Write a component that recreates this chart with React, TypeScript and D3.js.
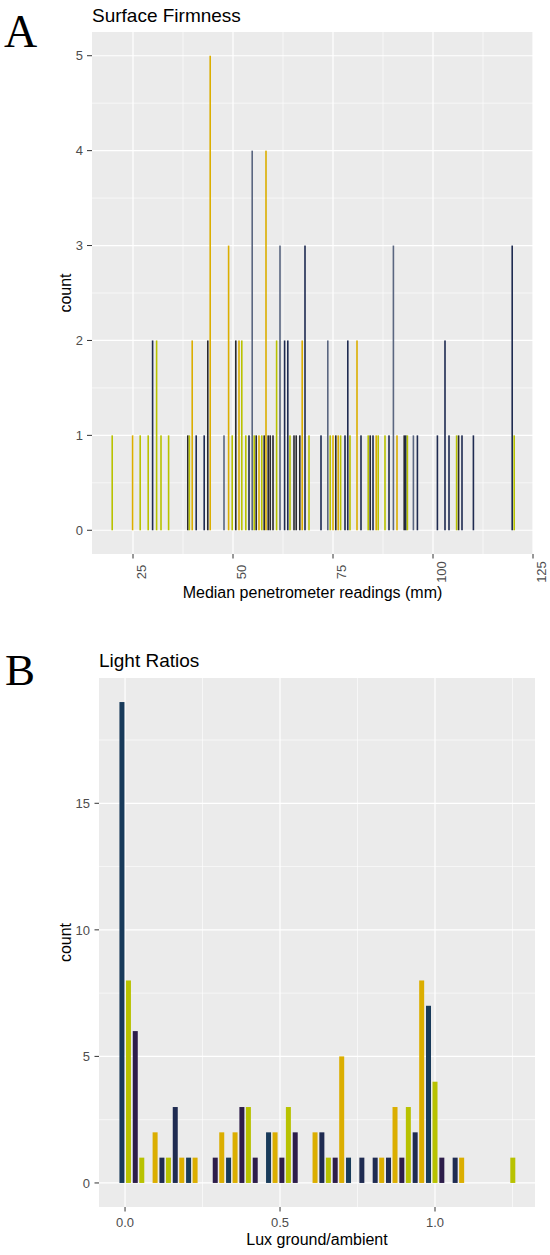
import * as d3 from 'd3'

const W = 550, H = 1255

// Panel A: median penetrometer readings (mm), one bar per dodged slot
const firmX = [19.8, 24.9, 26.8, 28.8, 29.9, 30.9, 32.0, 33.9, 38.7, 39.1, 39.8, 40.8, 42.8, 43.7, 44.3,
  47.75, 48.9, 49.8, 50.7, 51.5, 52.2, 53.2, 54.0, 54.8, 55.3, 55.8, 56.5, 57.2, 57.8, 58.25, 58.8, 59.3,
  60.0, 60.9, 61.75, 62.9, 63.7, 64.25, 65.25, 65.8, 66.7, 67.3, 68.0, 69.0, 72.0, 73.7, 74.3, 75.0, 75.7,
  76.3, 76.9, 78.0, 78.7, 79.25, 81.0, 82.0, 83.8, 84.3, 85.0, 85.8, 86.3, 88.0, 89.0, 90.1, 91.0, 92.8,
  93.2, 93.6, 95.1, 96.1, 101.1, 103.0, 104.0, 105.9, 106.4, 107.25, 110.1, 119.8, 120.3]
const firmCount = [1, 1, 1, 1, 2, 2, 1, 1, 1, 1, 2, 1, 1, 2, 5,
  1, 3, 1, 2, 2, 2, 1, 1, 4, 1, 1, 1, 1, 1, 4, 1, 1,
  1, 2, 3, 2, 2, 1, 1, 1, 1, 2, 3, 1, 1, 2, 1, 1, 1,
  1, 1, 1, 2, 1, 2, 1, 1, 1, 1, 1, 1, 1, 1, 3, 1, 1,
  1, 1, 1, 1, 1, 2, 1, 1, 1, 1, 1, 3, 1]
const firmGroup = ['y', 'g', 'y', 'y', 'n', 'y', 'y', 'y', 'd', 'y', 'g', 'n', 'n', 'd', 'g',
  's', 'g', 'y', 'd', 'g', 'y', 'y', 'n', 's', 'y', 'd', 'g', 'y', 'd', 'g', 'd', 'd',
  'd', 'y', 's', 'n', 'n', 'y', 'd', 'd', 'd', 'g', 'n', 'y', 'n', 's', 'y', 'g', 'd',
  'g', 'y', 'n', 'n', 'y', 'g', 'n', 'y', 'd', 'n', 'g', 'y', 'y', 'n', 's', 'g', 'd',
  'n', 'y', 's', 'n', 'n', 'n', 'n', 'y', 'd', 'n', 'n', 'n', 'y']
const firmXTicks = [25, 50, 75, 100, 125]
const firmXMinor = [37.5, 62.5, 87.5, 112.5]
const firmYTicks = [0, 1, 2, 3, 4, 5]
const firmYMinor = [0.5, 1.5, 2.5, 3.5, 4.5]

// Panel B: lux ground/ambient ratio
const luxX = [-0.010, 0.011, 0.033, 0.054, 0.097, 0.119, 0.140, 0.162, 0.183, 0.205, 0.226, 0.291, 0.312,
  0.334, 0.355, 0.377, 0.398, 0.420, 0.463, 0.484, 0.506, 0.527, 0.549, 0.613, 0.635, 0.656, 0.678, 0.699,
  0.721, 0.764, 0.807, 0.828, 0.850, 0.871, 0.893, 0.914, 0.936, 0.957, 0.979, 1.000, 1.022, 1.065, 1.086, 1.251]
const luxCount = [19, 8, 6, 1, 2, 1, 1, 3, 1, 1, 1, 1, 2,
  1, 2, 3, 3, 1, 2, 2, 1, 3, 2, 2, 2, 1, 1, 5,
  1, 1, 1, 1, 1, 3, 1, 3, 2, 8, 7, 4, 1, 1, 1, 1]
const luxGroup = ['t', 'y', 'p', 'y', 'g', 'n', 'y', 'n', 'g', 't', 'g', 'p', 'g',
  't', 'g', 'p', 'y', 'p', 't', 'g', 'p', 'y', 'p', 'g', 'n', 'y', 'p', 'g',
  't', 'n', 'n', 'g', 'n', 'g', 'p', 'y', 'n', 'g', 't', 'y', 'p', 'n', 'g', 'y']
const luxXTicks = [0, 0.5, 1]
const luxXLabels = ['0.0', '0.5', '1.0']
const luxXMinor = [0.25, 0.75, 1.25]
const luxYTicks = [0, 5, 10, 15]
const luxYMinor = [2.5, 7.5, 12.5, 17.5]

const COLORS: Record<string, string> = {
  n: '#1f2b51', t: '#183a5a', p: '#2d1d4a', d: '#2a2a30', s: '#5a6680', g: '#dbae00', y: '#b8c200',
}

const SANS = 'Liberation Sans, Arial, sans-serif'
const SERIF = 'Liberation Serif, Times New Roman, serif'

export default function App() {
  // panel A scales
  const ax = d3.scaleLinear().domain([14.75, 125]).range([92, 533])
  const ay = d3.scaleLinear().domain([-0.25, 5.25]).range([554, 32])
  const aBarW = 1.6

  // panel B scales
  const bx = d3.scaleLinear().domain([-0.084, 1.3226]).range([99, 535])
  const by = d3.scaleLinear().domain([-0.95, 19.95]).range([1207, 678])
  const bBarW = 5

  return (
    <div style={{ position: 'absolute', left: 0, top: 0 }}>
      <svg width={W} height={H} style={{ display: 'block', background: '#fff' }}>
        {/* ---------- Panel A ---------- */}
        <text x={4} y={47} fontFamily={SERIF} fontSize={46} fill="#000">A</text>
        <text x={92} y={22} fontFamily={SANS} fontSize={19} fill="#000">Surface Firmness</text>
        <rect x={92} y={32} width={533 - 92} height={554 - 32} fill="#ebebeb" />
        {firmYMinor.map(v => (
          <line key={'aym' + v} x1={92} x2={533} y1={ay(v)} y2={ay(v)} stroke="#fff" strokeWidth={0.6} />
        ))}
        {firmXMinor.map(v => (
          <line key={'axm' + v} x1={ax(v)} x2={ax(v)} y1={32} y2={554} stroke="#fff" strokeWidth={0.6} />
        ))}
        {firmYTicks.map(v => (
          <line key={'ayg' + v} x1={92} x2={533} y1={ay(v)} y2={ay(v)} stroke="#fff" strokeWidth={1.2} />
        ))}
        {firmXTicks.map(v => (
          <line key={'axg' + v} x1={ax(v)} x2={ax(v)} y1={32} y2={554} stroke="#fff" strokeWidth={1.2} />
        ))}
        {firmX.map((v, i) => (
          <rect key={'ab' + i} x={ax(v) - aBarW / 2} y={ay(firmCount[i])} width={aBarW}
            height={ay(0) - ay(firmCount[i])} fill={COLORS[firmGroup[i]]} />
        ))}
        {firmYTicks.map(v => (
          <g key={'ayt' + v}>
            <line x1={87} x2={92} y1={ay(v)} y2={ay(v)} stroke="#333" strokeWidth={1} />
            <text x={83} y={ay(v)} dy="0.36em" textAnchor="end" fontFamily={SANS} fontSize={13} fill="#4d4d4d">{v}</text>
          </g>
        ))}
        {firmXTicks.map(v => (
          <g key={'axt' + v}>
            <line x1={ax(v)} x2={ax(v)} y1={554} y2={558.5} stroke="#333" strokeWidth={1} />
            <text x={ax(v) + 12.5} y={572} textAnchor="middle" fontFamily={SANS} fontSize={13} fill="#4d4d4d"
              transform={`rotate(-90, ${ax(v) + 12.5}, 572)`}>{v}</text>
          </g>
        ))}
        <text x={312.5} y={598} textAnchor="middle" fontFamily={SANS} fontSize={16} fill="#000">
          Median penetrometer readings (mm)
        </text>
        <text x={70.5} y={293} textAnchor="middle" fontFamily={SANS} fontSize={16} fill="#000"
          transform="rotate(-90, 70.5, 293)">count</text>

        {/* ---------- Panel B ---------- */}
        <text x={5} y={685} fontFamily={SERIF} fontSize={45} fill="#000">B</text>
        <text x={99} y={667} fontFamily={SANS} fontSize={19} fill="#000">Light Ratios</text>
        <rect x={99} y={678} width={535 - 99} height={1207 - 678} fill="#ebebeb" />
        {luxYMinor.map(v => (
          <line key={'bym' + v} x1={99} x2={535} y1={by(v)} y2={by(v)} stroke="#fff" strokeWidth={0.6} />
        ))}
        {luxXMinor.map(v => (
          <line key={'bxm' + v} x1={bx(v)} x2={bx(v)} y1={678} y2={1207} stroke="#fff" strokeWidth={0.6} />
        ))}
        {luxYTicks.map(v => (
          <line key={'byg' + v} x1={99} x2={535} y1={by(v)} y2={by(v)} stroke="#fff" strokeWidth={1.2} />
        ))}
        {luxXTicks.map(v => (
          <line key={'bxg' + v} x1={bx(v)} x2={bx(v)} y1={678} y2={1207} stroke="#fff" strokeWidth={1.2} />
        ))}
        {luxX.map((v, i) => (
          <rect key={'bb' + i} x={bx(v) - bBarW / 2} y={by(luxCount[i])} width={bBarW}
            height={by(0) - by(luxCount[i])} fill={COLORS[luxGroup[i]]} />
        ))}
        {luxYTicks.map(v => (
          <g key={'byt' + v}>
            <line x1={94.5} x2={99} y1={by(v)} y2={by(v)} stroke="#333" strokeWidth={1} />
            <text x={90} y={by(v)} dy="0.36em" textAnchor="end" fontFamily={SANS} fontSize={13} fill="#4d4d4d">{v}</text>
          </g>
        ))}
        {luxXTicks.map((v, i) => (
          <g key={'bxt' + v}>
            <line x1={bx(v)} x2={bx(v)} y1={1207} y2={1211.5} stroke="#333" strokeWidth={1} />
            <text x={bx(v)} y={1227} textAnchor="middle" fontFamily={SANS} fontSize={13} fill="#4d4d4d">{luxXLabels[i]}</text>
          </g>
        ))}
        <text x={317} y={1245} textAnchor="middle" fontFamily={SANS} fontSize={16} fill="#000">Lux ground/ambient</text>
        <text x={70.5} y={942.5} textAnchor="middle" fontFamily={SANS} fontSize={16} fill="#000"
          transform="rotate(-90, 70.5, 942.5)">count</text>
      </svg>
    </div>
  )
}
